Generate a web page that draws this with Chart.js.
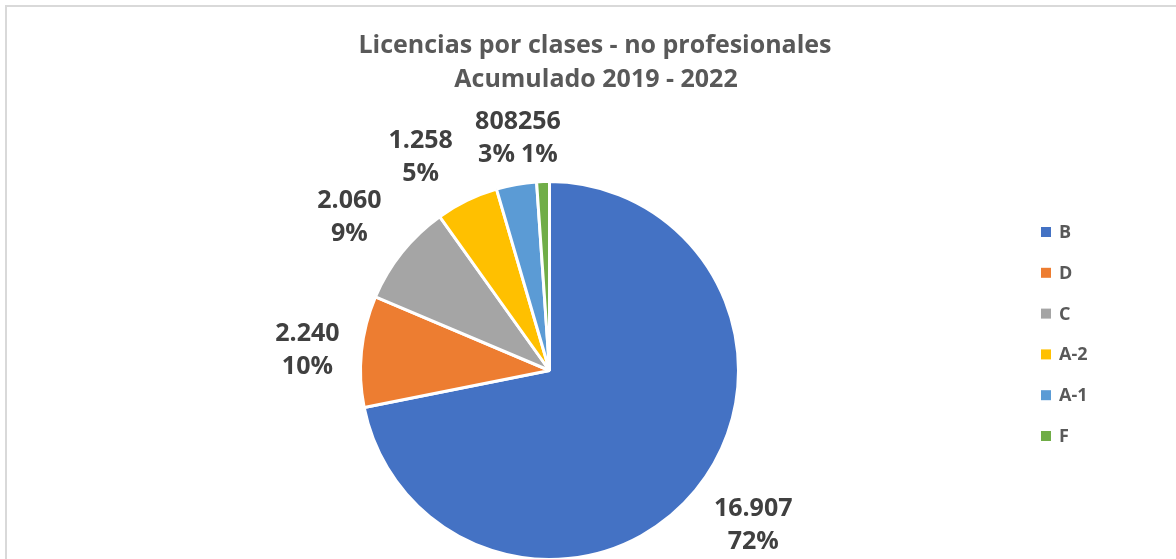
<!DOCTYPE html>
<html lang="es">
<head>
<meta charset="utf-8">
<title>Licencias por clases - no profesionales</title>
<script src="https://cdn.jsdelivr.net/npm/chart.js@4.4.1/dist/chart.umd.min.js"></script>
<style>
  html, body { margin: 0; padding: 0; background: #fff; overflow: hidden; }
  #wrap { position: relative; width: 1176px; height: 565px; }
  #frame {
    position: absolute; left: 5px; top: 5px; right: -10px; bottom: -10px;
    border-top: 2px solid #d9d9d9; border-left: 2px solid #d9d9d9;
    pointer-events: none;
  }
</style>
</head>
<body>
<div id="wrap">
  <div id="frame"></div>
  <canvas id="licencias-chart"></canvas>
</div>
<script>
const clases = ['B', 'D', 'C', 'A-2', 'A-1', 'F'];
const licencias = [16907, 2240, 2060, 1258, 808, 256];
const colores = ['#4472C4', '#ED7D31', '#A5A5A5', '#FFC000', '#5B9BD5', '#70AD47'];
const titulo = ['Licencias por clases - no profesionales', 'Acumulado 2019 - 2022'];

// ajuste fino de cada etiqueta respecto a su posicion calculada (px)
const ajusteEtiquetas = [[7, -8], [-5, 2], [-6, 1], [-21, 7], [0, 2], [-2, 3]];

const total = licencias.reduce((a, b) => a + b, 0);

function miles(n) {
    return String(n).replace(/\B(?=(\d{3})+(?!\d))/g, '.');
}

// titulo, etiquetas de datos y leyenda dibujados sobre el canvas
const extras = {
    id: 'extras',
    afterDraw(chart) {
        const ctx = chart.ctx;
        ctx.save();
        ctx.textBaseline = 'alphabetic';

        // titulo
        ctx.fillStyle = '#595959';
        ctx.textAlign = 'center';
        ctx.font = 'bold 25px "Open Sans"';
        ctx.fillText(titulo[0], 595, 53);
        ctx.fillText(titulo[1], 596, 87);

        // etiquetas fuera de cada sector: la caja se aleja del borde
        // segun su extension en la direccion del angulo medio
        const meta = chart.getDatasetMeta(0);
        const lineH = 33;
        const gap = 14;
        ctx.font = 'bold 25px "Open Sans"';
        const cajas = meta.data.map((arc, i) => {
            const p = arc.getProps(['x', 'y', 'startAngle', 'endAngle', 'outerRadius'], true);
            const mid = (p.startAngle + p.endAngle) / 2;
            const dx = Math.cos(mid), dy = Math.sin(mid);
            const l1 = miles(licencias[i]);
            const l2 = Math.round(licencias[i] / total * 100) + '%';
            const w = Math.max(ctx.measureText(l1).width, ctx.measureText(l2).width);
            const h = lineH * 2;
            const ext = Math.abs(dx) * w / 2 + Math.abs(dy) * h / 2;
            const d = p.outerRadius + gap + ext;
            const [ax, ay] = ajusteEtiquetas[i];
            return { l1, l2, w, h, top: dy < 0, cx: p.x + dx * d + ax, cy: p.y + dy * d + ay };
        });

        // evitar solapes arriba: cada caja cede hacia la izquierda ante la siguiente
        for (let i = cajas.length - 2; i >= 0; i--) {
            const a = cajas[i], b = cajas[i + 1];
            const solapeY = Math.abs(a.cy - b.cy) < (a.h + b.h) / 2;
            const limite = b.cx - b.w / 2 - a.w / 2;
            if (a.top && solapeY && a.cx > limite) {
                a.cx = limite;
            }
        }

        ctx.fillStyle = '#404040';
        const capMedia = 9;
        cajas.forEach(c => {
            ctx.fillText(c.l1, c.cx, c.cy - lineH / 2 + capMedia);
            ctx.fillText(c.l2, c.cx, c.cy + lineH / 2 + capMedia);
        });

        // leyenda
        ctx.textAlign = 'left';
        ctx.font = 'bold 18px "Open Sans"';
        clases.forEach((c, i) => {
            const y = 232 + i * 40.8;
            ctx.fillStyle = colores[i];
            ctx.fillRect(1041, y - 5, 10, 10);
            ctx.fillStyle = '#595959';
            ctx.fillText(c, 1059, y + 6);
        });

        ctx.restore();
    }
};

const data = {
    labels: clases,
    datasets: [{
        data: licencias,
        backgroundColor: colores,
        borderColor: '#ffffff',
        borderWidth: 3
    }]
};

const config = {
    type: 'pie',
    data: data,
    options: {
        responsive: true,
        maintainAspectRatio: false,
        animation: false,
        layout: {
            padding: { top: 180, bottom: 4, left: 359, right: 436 }
        },
        plugins: {
            legend: { display: false },
            title: { display: false },
            tooltip: { enabled: false }
        }
    },
    plugins: [extras]
};

const licenciasChart = new Chart(
    document.getElementById('licencias-chart'),
    config
);
</script>
</body>
</html>
